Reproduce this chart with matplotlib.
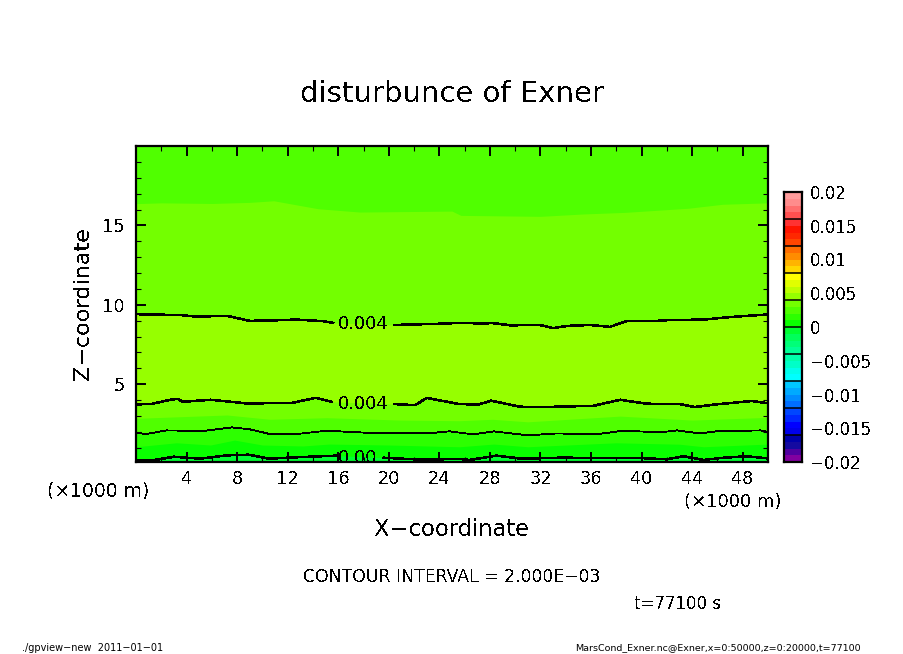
import matplotlib
matplotlib.use('Agg')
import matplotlib.pyplot as plt
import numpy as np
from matplotlib.colors import ListedColormap, BoundaryNorm

# contour 0.000
x_c0 = [0, 1.5, 3, 5.1, 7.2, 8.9, 10.5, 13, 15.9, 19.6, 22.5, 25.6, 26.4, 28.5, 30.5, 33.5, 39.9, 42, 43.3, 44.9, 46.5, 48.3, 50]
z_c0 = [0.23, 0.23, 0.43, 0.31, 0.52, 0.56, 0.31, 0.41, 0.50, 0.37, 0.25, 0.29, 0.23, 0.50, 0.31, 0.37, 0.35, 0.27, 0.46, 0.23, 0.37, 0.46, 0.33]

# shade boundary 0.001
x_s1 = [0, 3.2, 5.9, 7.8, 10, 13.2, 15.3, 20, 25.6, 28.3, 31, 38, 43, 44.9, 50]
z_s1 = [1.06, 1.31, 1.17, 1.48, 1.17, 1.11, 1.23, 1.17, 1.06, 1.23, 1.06, 1.31, 1.22, 1.06, 1.23]

# contour 0.002
x_c2 = [0, 0.8, 2.4, 5.3, 7.6, 9, 10.6, 12.7, 15.1, 19.3, 23.3, 24.8, 26.7, 28.3, 31, 33.3, 36.4, 38.5, 41.5, 42.8, 44.6, 45.9, 49.4, 50]
z_c2 = [1.94, 1.86, 2.09, 2.05, 2.28, 2.16, 1.86, 1.86, 2.07, 1.90, 1.92, 2.03, 1.84, 2.03, 1.78, 1.90, 1.84, 2.07, 1.97, 2.09, 1.90, 2.03, 2.09, 1.99]

# shade boundary 0.003
x_s3 = [0, 7.2, 10.6, 15.1, 20.9, 25.6, 28.2, 31, 38.3, 44, 50]
z_s3 = [2.85, 3.06, 2.79, 2.89, 2.74, 2.70, 2.79, 2.63, 2.99, 2.74, 2.91]

# contour 0.004, lower branch
x_c4a = [0, 1.2, 2.7, 3.3, 3.7, 5.9, 9, 11.1, 12.4, 14.2, 15.5, 20.4, 22.1, 23, 25.4, 27, 28.1, 30.4, 32.2, 36.2, 38.3, 40.4, 43, 44.2, 45.9, 48.7, 50]
z_c4a = [3.73, 3.75, 4.02, 4.08, 3.89, 4.02, 3.77, 3.83, 3.83, 4.14, 3.89, 3.75, 3.68, 4.14, 3.77, 3.70, 3.96, 3.58, 3.56, 3.64, 4.02, 3.77, 3.75, 3.56, 3.73, 3.94, 3.80]

# contour 0.004, upper branch
x_c4b = [0, 3.6, 4.7, 7.2, 9, 10.6, 12.7, 14.8, 15.6, 20.4, 23.8, 25.6, 27.7, 28.1, 29.7, 31.2, 32, 33, 34.1, 35.9, 37.5, 38.8, 40.9, 42, 44.9, 47.2, 50]
z_c4b = [9.41, 9.35, 9.26, 9.30, 8.99, 9.01, 9.07, 8.97, 8.86, 8.73, 8.80, 8.86, 8.82, 8.86, 8.70, 8.74, 8.72, 8.53, 8.67, 8.73, 8.61, 8.97, 8.97, 9.03, 9.07, 9.24, 9.39]

# shade boundary 0.003 above the maximum
x_s3b = [0, 2, 6, 9, 10.9, 14.4, 17.7, 25, 25.7, 32, 35.4, 38.7, 43.7, 46.4, 50]
z_s3b = [16.37, 16.42, 16.38, 16.45, 16.55, 16.05, 15.84, 15.9, 15.63, 15.57, 15.72, 15.82, 16.08, 16.33, 16.42]

levels = np.arange(-20, 21) / 1000.0
colors = ['#8200a0', '#5000a0', '#140aa0', '#0000aa',
          '#0000eb', '#0000ff', '#0028ff', '#0046ff',
          '#006eff', '#008cff', '#00aaff', '#00c8ff',
          '#00ffff', '#00ffeb', '#00ffc8', '#00ffaa',
          '#00ff96', '#00ff78', '#00ff5a', '#00ff32',
          '#0aff00', '#2dff00', '#50ff00', '#73ff00',
          '#96ff00', '#beff00', '#e1ff00', '#ffff00',
          '#ffd700', '#ffb400', '#ff8c00', '#ff6e00',
          '#ff4600', '#ff2800', '#ff1400', '#ff3232',
          '#ff5050', '#ff6e6e', '#ff8c8c', '#ff9c9c']
cbar_ticks = [-0.02, -0.015, -0.01, -0.005, 0, 0.005, 0.01, 0.015, 0.02]
cbar_labels = ['\u22120.02', '\u22120.015', '\u22120.01', '\u22120.005', '0', '0.005', '0.01', '0.015', '0.02']

plt.rcParams['font.family'] = 'DejaVu Sans'
plt.rcParams['text.antialiased'] = False

cmap = ListedColormap(colors)
norm = BoundaryNorm(levels, cmap.N)


def band(value):
    return cmap(norm(value))


def px_text(x, y, s, **kw):
    fig.text(x / 904, 1 - y / 654, s, va='center', **kw)


def draw_contour(ax, x, z, gap, lw):
    x = np.array(x)
    z = np.array(z)
    if gap is None:
        ax.plot(x, z, color='k', lw=lw, antialiased=False)
        return
    ax.plot(x[x <= gap[0]], z[x <= gap[0]], color='k', lw=lw, antialiased=False)
    ax.plot(x[x >= gap[1]], z[x >= gap[1]], color='k', lw=lw, antialiased=False)


fig = plt.figure(figsize=(9.04, 6.54), dpi=100)
ax = fig.add_axes([136 / 904, 1 - 462 / 654, 632 / 904, 316 / 654])
x0, x1 = 0.0, 50.0
z0, z1 = 0.1, 20.0

# painted from the ground upward
ax.set_facecolor(band(-0.0005))
for xs, zs, val in [(x_c0, z_c0, 0.0005), (x_s1, z_s1, 0.0015), (x_c2, z_c2, 0.0025),
                    (x_s3, z_s3, 0.0035), (x_c4a, z_c4a, 0.0045), (x_c4b, z_c4b, 0.0035),
                    (x_s3b, z_s3b, 0.0025)]:
    ax.fill_between(xs, zs, z1, color=band(val), linewidth=0, antialiased=False)

draw_contour(ax, x_c0, z_c0, (15.9, 19.6), 1.1)
draw_contour(ax, x_c2, z_c2, None, 0.6)
draw_contour(ax, x_c4a, z_c4a, (15.5, 20.4), 1.1)
draw_contour(ax, x_c4b, z_c4b, (15.6, 20.4), 1.1)

ax.text(17.95, 8.8, '0.004', ha='center', va='center', fontsize=12.8)
ax.text(17.95, 3.75, '0.004', ha='center', va='center', fontsize=12.8)
ax.text(17.5, 0.35, '0.00', ha='center', va='center', fontsize=13, clip_on=True)

ax.set_xlim(x0, x1)
ax.set_ylim(z0, z1)
ax.set_xticks(np.arange(4, 50, 4))
ax.set_xticks(np.arange(2, 50, 2), minor=True)
ax.set_yticks([5, 10, 15])
ax.set_yticks(np.arange(1, 20), minor=True)
ax.tick_params(axis='x', which='major', pad=6)
ax.tick_params(axis='y', which='major', pad=8)
ax.tick_params(axis='both', which='major', direction='in', length=7, width=1.4,
               top=True, right=True, labelsize=12.8)
ax.tick_params(axis='both', which='minor', direction='in', length=3.5, width=0.8,
               top=True, right=True)
for sp in ax.spines.values():
    sp.set_linewidth(1.6)

# colour bar
cax = fig.add_axes([784 / 904, 1 - 462 / 654, 18 / 904, 270 / 654])
cax.pcolormesh([0, 1], levels, (levels[:-1] + levels[1:]).reshape(-1, 1) / 2, cmap=cmap, norm=norm)
cax.hlines(levels[::4], 0, 1, color='k', lw=1.1)
cax.set_xlim(0, 1)
cax.set_ylim(-0.02, 0.02)
cax.set_xticks([])
cax.yaxis.tick_right()
cax.set_yticks(cbar_ticks)
cax.set_yticklabels(cbar_labels)
cax.tick_params(axis='y', length=0, labelsize=12, pad=6)
for sp in cax.spines.values():
    sp.set_linewidth(1.6)

px_text(452, 94, 'disturbunce of Exner', ha='center', fontsize=21)
px_text(452, 530, 'X\u2212coordinate', ha='center', fontsize=16.3)
fig.text(83 / 904, 1 - 304 / 654, 'Z\u2212coordinate', rotation=90, ha='center', va='center', fontsize=16)
px_text(98, 491, '(\u00d71000 m)', ha='center', fontsize=13.5)
px_text(733, 502, '(\u00d71000 m)', ha='center', fontsize=13)
px_text(452, 577, 'CONTOUR INTERVAL = 2.000E\u221203', ha='center', fontsize=12.4)
px_text(678, 604, 't=77100 s', ha='center', fontsize=12)
px_text(22, 648, './gpview\u2212new  2011\u221201\u221201', ha='left', fontsize=7, antialiased=True)
px_text(575, 648, 'MarsCond_Exner.nc@Exner,x=0:50000,z=0:20000,t=77100', ha='left', fontsize=6.8, antialiased=True)

fig.savefig('out.png', dpi=100)
